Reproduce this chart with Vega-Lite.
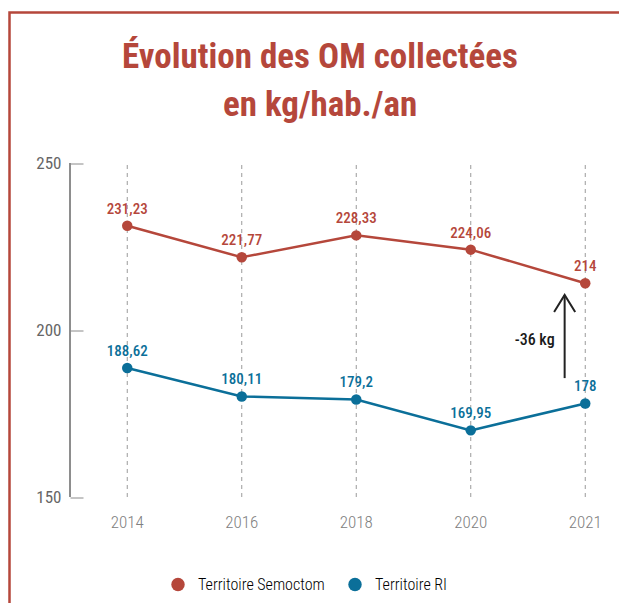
{
  "$schema": "https://vega.github.io/schema/vega-lite/v6.json",
  "width": 633,
  "height": 600,
  "autosize": "none",
  "padding": {"left": 9.5, "top": 12.5, "right": -23.5, "bottom": -9.5},
  "background": "white",
  "title": {
    "text": ["Évolution des OM collectées", "en kg/hab./an"],
    "anchor": "middle",
    "offset": -110,
    "dx": -6,
    "fontSize": 35,
    "font": "Roboto Condensed, Liberation Sans Narrow, DejaVu Sans Condensed, Roboto, sans-serif",
    "fontWeight": "bold",
    "color": "#b5473b",
    "lineHeight": 48
  },
  "datasets": {
    "series": [
      {"year": "2014", "series": "Territoire Semoctom", "value": 231.23},
      {"year": "2016", "series": "Territoire Semoctom", "value": 221.77},
      {"year": "2018", "series": "Territoire Semoctom", "value": 228.33},
      {"year": "2020", "series": "Territoire Semoctom", "value": 224.06},
      {"year": "2021", "series": "Territoire Semoctom", "value": 214},
      {"year": "2014", "series": "Territoire RI", "value": 188.62},
      {"year": "2016", "series": "Territoire RI", "value": 180.11},
      {"year": "2018", "series": "Territoire RI", "value": 179.2},
      {"year": "2020", "series": "Territoire RI", "value": 169.95},
      {"year": "2021", "series": "Territoire RI", "value": 178}
    ],
    "years": [{"year": "2014"}, {"year": "2016"}, {"year": "2018"}, {"year": "2020"}, {"year": "2021"}],
    "note": [{"year": "2021", "from": 185.6, "to": 210.5, "mid": 197, "text": "-36 kg"}]
  },
  "layer": [
    {
      "data": {"name": "years"},
      "mark": {"type": "rule", "strokeDash": [4, 4], "color": "#9a9a9a", "strokeWidth": 1},
      "encoding": {
        "x": {
          "field": "year", "type": "ordinal",
          "scale": {"type": "band", "paddingInner": 0, "paddingOuter": 0.2642, "align": 1},
          "axis": {
            "domain": false, "ticks": false, "grid": false, "offset": -115.5,
            "labelFont": "Roboto Condensed, Liberation Sans Narrow, DejaVu Sans Condensed, Roboto, sans-serif",
            "labelFontSize": 17, "labelFontWeight": 300, "labelColor": "#808080", "labelPadding": 17,
            "labelAngle": 0, "title": null
          }
        },
        "y": {
          "datum": 150, "type": "quantitative",
          "scale": {"domain": [115.42, 295.06], "nice": false, "zero": false},
          "axis": {
            "values": [150, 200, 250], "domain": false, "grid": false, "offset": -60.5,
            "tickSize": -13, "tickColor": "#8a8a8a", "tickWidth": 1,
            "labelFont": "Roboto Condensed, Liberation Sans Narrow, DejaVu Sans Condensed, Roboto, sans-serif",
            "labelFontSize": 17, "labelFontWeight": 400, "labelColor": "#666666", "labelPadding": 22, "title": null
          }
        },
        "y2": {"datum": 250}
      }
    },
    {
      "data": {"name": "years"},
      "mark": {"type": "rule", "color": "#8a8a8a", "strokeWidth": 1},
      "encoding": {
        "x": {"datum": "2014", "type": "ordinal", "bandPosition": 0},
        "y": {"datum": 150, "type": "quantitative"},
        "y2": {"datum": 250}
      }
    },
    {
      "data": {"name": "series"},
      "mark": {"type": "line", "strokeWidth": 2.5},
      "encoding": {
        "x": {"field": "year", "type": "ordinal"},
        "y": {"field": "value", "type": "quantitative"},
        "color": {
          "field": "series", "type": "nominal",
          "scale": {"domain": ["Territoire Semoctom", "Territoire RI"], "range": ["#b5473b", "#0b6f99"]}
        }
      }
    },
    {
      "data": {"name": "series"},
      "mark": {"type": "point", "filled": true, "size": 110, "opacity": 1},
      "encoding": {
        "x": {"field": "year", "type": "ordinal"},
        "y": {"field": "value", "type": "quantitative"},
        "color": {
          "field": "series", "type": "nominal",
          "legend": {
            "orient": "none", "legendX": 160.5, "legendY": 564, "direction": "horizontal",
            "title": null, "symbolType": "circle", "symbolSize": 180, "symbolStrokeWidth": 0,
            "labelFont": "Roboto Condensed, Liberation Sans Narrow, DejaVu Sans Condensed, Roboto, sans-serif",
            "labelFontSize": 16, "labelFontWeight": 300, "labelOffset": 12, "columnPadding": 22, "padding": 0, "labelLimit": 300,
            "encode": {
              "labels": {"update": {"fill": {"signal": "datum.value === 'Territoire Semoctom' ? '#c0665b' : '#2f86b3'"}}},
              "symbols": {"update": {"fill": {"signal": "datum.value === 'Territoire Semoctom' ? '#b5473b' : '#0b6f99'"}, "stroke": {"value": "transparent"}, "shape": {"value": "circle"}, "size": {"value": 180}, "opacity": {"value": 1}}}
            }
          }
        }
      }
    },
    {
      "data": {"name": "series"},
      "mark": {"type": "text", "dy": -17, "fontSize": 15, "fontWeight": 500, "font": "Roboto Condensed, Liberation Sans Narrow, DejaVu Sans Condensed, Roboto, sans-serif"},
      "encoding": {
        "x": {"field": "year", "type": "ordinal"},
        "y": {"field": "value", "type": "quantitative"},
        "text": {"field": "value", "type": "quantitative", "format": "~f"},
        "color": {"field": "series", "type": "nominal"}
      }
    },
    {
      "data": {"name": "note"},
      "mark": {"type": "rule", "color": "#222222", "strokeWidth": 2},
      "encoding": {
        "x": {"field": "year", "type": "ordinal", "bandPosition": 0.32},
        "y": {"field": "from", "type": "quantitative"},
        "y2": {"field": "to"}
      }
    },
    {
      "data": {"name": "note"},
      "mark": {"type": "point", "shape": "M-0.62,1L0,0L0.62,1", "size": 1156, "filled": false, "color": "#222222", "strokeWidth": 2, "opacity": 1},
      "encoding": {
        "x": {"field": "year", "type": "ordinal", "bandPosition": 0.32},
        "y": {"field": "to", "type": "quantitative"}
      }
    },
    {
      "data": {"name": "note"},
      "mark": {"type": "text", "align": "right", "baseline": "middle", "dx": -10, "fontSize": 16, "fontWeight": 500, "color": "#1a1a1a", "font": "Roboto Condensed, Liberation Sans Narrow, DejaVu Sans Condensed, Roboto, sans-serif"},
      "encoding": {
        "x": {"field": "year", "type": "ordinal", "bandPosition": 0.32},
        "y": {"field": "mid", "type": "quantitative"},
        "text": {"field": "text"}
      }
    }
  ],
  "config": {
    "view": {"stroke": "#b5473b", "strokeWidth": 2.5},
    "locale": {"number": {"decimal": ",", "thousands": " ", "grouping": [3], "currency": ["", " €"]}}
  }
}
